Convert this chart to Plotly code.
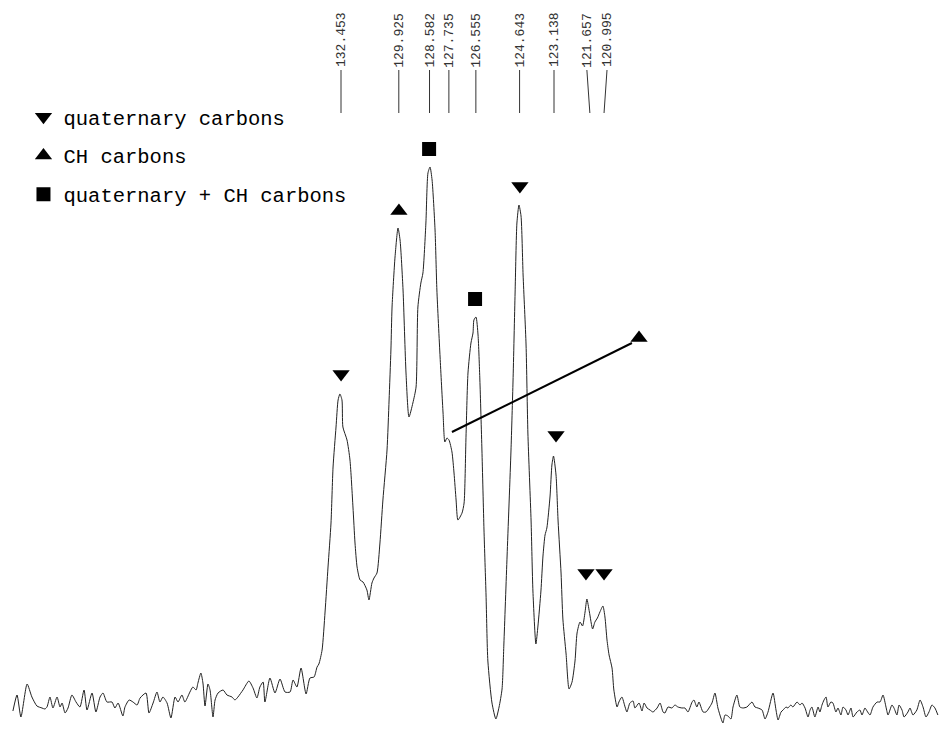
import plotly.graph_objects as go

# 13C NMR spectrum (chemical shift in ppm, intensity in arbitrary units)
shift_ppm = [
    146.80, 146.62, 146.45, 146.18, 145.97, 145.75, 145.53, 145.40, 145.31, 145.18,
    145.05, 144.87, 144.74, 144.65, 144.52, 144.39, 144.22, 144.04, 143.87, 143.69,
    143.56, 143.34, 143.17, 142.99, 142.86, 142.69, 142.47, 142.34, 142.20, 141.99,
    141.90, 141.72, 141.55, 141.37, 141.24, 140.98, 140.85, 140.67, 140.50, 140.37,
    140.24, 140.06, 139.89, 139.71, 139.58, 139.41, 139.28, 139.06, 138.93, 138.79,
    138.71, 138.58, 138.49, 138.40, 138.27, 138.18, 138.05, 137.96, 137.83, 137.61,
    137.44, 137.22, 137.09, 136.96, 136.74, 136.48, 136.30, 136.13, 136.00, 135.86,
    135.78, 135.56, 135.34, 135.12, 134.90, 134.68, 134.55, 134.38, 134.20, 133.98,
    133.81, 133.63, 133.50, 133.42, 133.28, 133.15, 133.02, 132.89, 132.80, 132.67,
    132.58, 132.50, 132.41, 132.37, 132.19, 132.06, 131.93, 131.84, 131.75, 131.62,
    131.49, 131.32, 131.23, 131.10, 131.01, 130.88, 130.75, 130.62, 130.44, 130.35,
    130.27, 130.22, 130.09, 129.96, 129.87, 129.74, 129.61, 129.48, 129.31, 129.17,
    129.09, 128.96, 128.87, 128.74, 128.65, 128.56, 128.47, 128.34, 128.26, 128.12,
    127.99, 127.91, 127.82, 127.73, 127.60, 127.51, 127.42, 127.34, 127.16, 127.07,
    126.99, 126.90, 126.77, 126.68, 126.64, 126.55, 126.46, 126.38, 126.29, 126.20,
    126.11, 126.03, 125.85, 125.68, 125.54, 125.41, 125.33, 125.19, 125.02, 124.93,
    124.84, 124.76, 124.67, 124.58, 124.49, 124.36, 124.28, 124.14, 124.06, 123.93,
    123.84, 123.71, 123.62, 123.53, 123.45, 123.31, 123.23, 123.16, 123.05, 122.96,
    122.83, 122.75, 122.61, 122.48, 122.35, 122.22, 122.13, 122.00, 121.89, 121.78,
    121.70, 121.59, 121.45, 121.35, 121.24, 121.13, 121.00, 120.91, 120.82, 120.73,
    120.60, 120.52, 120.38, 120.30, 120.17, 120.03, 119.95, 119.82, 119.68, 119.60,
    119.42, 119.29, 119.20, 119.07, 118.94, 118.81, 118.63, 118.50, 118.37, 118.29,
    118.15, 117.98, 117.85, 117.72, 117.54, 117.41, 117.28, 117.10, 117.02, 116.89,
    116.80, 116.62, 116.49, 116.36, 116.23, 116.10, 115.97, 115.84, 115.75, 115.66,
    115.53, 115.40, 115.31, 115.14, 115.01, 114.87, 114.70, 114.48, 114.35, 114.22,
    114.04, 113.91, 113.78, 113.56, 113.43, 113.34, 113.21, 113.12, 112.99, 112.91,
    112.78, 112.69, 112.51, 112.38, 112.29, 112.16, 112.03, 111.94, 111.86, 111.73,
    111.59, 111.51, 111.42, 111.33, 111.24, 111.16, 111.03, 110.94, 110.81, 110.72,
    110.59, 110.50, 110.37, 110.28, 110.15, 110.06, 109.89, 109.76, 109.67, 109.54,
    109.45, 109.32, 109.19, 109.01, 108.88, 108.75, 108.62, 108.53, 108.36, 108.27,
    108.14, 108.05, 107.92, 107.83, 107.66, 107.57, 107.44, 107.27, 107.13, 107.00,
    106.87, 106.74, 106.61, 106.48, 106.35,
]
intensity = [
    -11, 5, -17, 16, 3, -6, -8, -9, -7, 3,
    -8, 3, -7, -3, -13, -8, 5, -2, -7, 10,
    -10, 7, -12, 3, 7, -2, -2, -8, -3, -16,
    -7, 0, -2, -5, 2, 7, -13, -3, 8, -2,
    3, -3, -18, 3, -2, 5, -2, 8, 13, 10,
    17, 27, 17, -6, 16, 10, -17, 0, 7, 10,
    5, 3, 0, 3, 10, 19, 12, 2, 13, 18,
    -2, 22, 7, 21, 8, 8, 20, 13, 32, 6,
    22, 23, 33, 36, 50, 88, 133, 177, 233, 273,
    300, 306, 300, 273, 260, 240, 193, 157, 133, 120,
    118, 110, 100, 117, 122, 127, 157, 200, 250, 300,
    350, 393, 443, 472, 460, 410, 327, 283, 297, 313,
    393, 417, 427, 477, 527, 533, 520, 470, 410, 343,
    287, 258, 262, 260, 248, 227, 200, 180, 187, 197,
    260, 327, 357, 367, 380, 383, 365, 320, 250, 170,
    105, 39, -3, -19, -7, 11, 56, 144, 249, 319,
    407, 477, 495, 484, 425, 355, 267, 179, 109, 56,
    74, 109, 144, 165, 172, 204, 235, 244, 225, 179,
    127, 81, 46, 11, 18, 39, 67, 78, 74, 88,
    101, 88, 71, 78, 82, 88, 94, 83, 60, 45,
    32, 10, -7, -2, 3, -7, -12, -3, -1, -8,
    -3, -11, -3, -8, -10, -12, -8, -3, -12, -13,
    -7, -8, -5, -7, -8, -8, -12, -2, 0, -7,
    -2, -12, -12, -8, -3, 7, -8, -18, -23, -15,
    -16, -19, -7, 5, -7, -8, -7, -2, -7, -8,
    -10, -19, -12, 7, -10, -20, -12, -10, -7, -8,
    -5, -7, -2, -5, -3, -8, -17, -10, -7, -17,
    -7, -12, -5, 0, 3, -7, -2, -3, -12, -8,
    -15, -7, -10, -15, -8, -17, -12, -10, -15, -8,
    -11, -15, -7, -2, -2, 5, -7, -15, -5, -8,
    -15, -5, -10, -17, -12, -8, -15, -10, 0, -7,
    -17, -12, -5, -8, -15,
]

# Peak-pick labels (ppm)
peak_labels = ["132.453", "129.925", "128.582", "127.735", "126.555",
               "124.643", "123.138", "121.657", "120.995"]
label_top_ppm = [132.453, 129.925, 128.582, 127.735, 126.555, 124.643, 123.138, 121.70, 120.82]
label_bottom_ppm = [132.453, 129.925, 128.582, 127.735, 126.555, 124.643, 123.138, 121.57, 120.95]

# Assignment markers
quat_ppm = [132.45, 124.63, 123.05, 121.74, 120.95]
quat_int = [326, 514, 265, 127, 127]
ch_ppm = [129.92, 119.42]
ch_int = [489, 362]
both_ppm = [128.60, 126.59]
both_int = [551, 401]
ch_leader_ppm = [127.60, 119.73]
ch_leader_int = [268, 357]

fig = go.Figure()
fig.add_trace(go.Scatter(x=shift_ppm, y=intensity, mode="lines",
                         line=dict(color="#222222", width=1, shape="spline", smoothing=0.6),
                         showlegend=False, hoverinfo="skip"))
fig.add_trace(go.Scatter(x=ch_leader_ppm, y=ch_leader_int, mode="lines",
                         line=dict(color="black", width=2), showlegend=False, hoverinfo="skip"))
fig.add_trace(go.Scatter(x=quat_ppm, y=quat_int, mode="markers", name="quaternary carbons",
                         legendgroup="q",
                         marker=dict(symbol="triangle-down", size=15, color="black", line=dict(width=0))))
fig.add_trace(go.Scatter(x=ch_ppm, y=ch_int, mode="markers", name="CH carbons",
                         legendgroup="c",
                         marker=dict(symbol="triangle-up", size=15, color="black", line=dict(width=0))))
fig.add_trace(go.Scatter(x=both_ppm, y=both_int, mode="markers", name="quaternary + CH carbons",
                         legendgroup="b",
                         marker=dict(symbol="square", size=14, color="black", line=dict(width=0))))

y_line_top = 1 - 70 / 731
y_line_bot = 1 - 113 / 731
y_text = 1 - 40 / 731
for lab, xt, xb in zip(peak_labels, label_top_ppm, label_bottom_ppm):
    fig.add_shape(type="line", xref="x", yref="paper", x0=xt, x1=xb, y0=y_line_top, y1=y_line_bot,
                  line=dict(color="#333333", width=1))
    fig.add_annotation(x=xt, y=y_text, xref="x", yref="paper", text=lab, textangle=-90,
                       showarrow=False, xanchor="center", yanchor="middle",
                       font=dict(family="Liberation Mono, DejaVu Sans Mono, monospace", size=13, color="#333333"))

fig.update_layout(
    width=939, height=731, autosize=False,
    margin=dict(l=0, r=0, t=0, b=0),
    paper_bgcolor="white", plot_bgcolor="white",
    xaxis=dict(range=[147.365, 106.302], visible=False, showgrid=False, zeroline=False),
    yaxis=dict(range=[-31, 700], visible=False, showgrid=False, zeroline=False),
    showlegend=True,
    legend=dict(x=0.025, y=1 - 97 / 731, xanchor="left", yanchor="top",
                bgcolor="rgba(0,0,0,0)", borderwidth=0, tracegroupgap=9,
                font=dict(family="Courier New, Liberation Mono, monospace", size=20.5, color="black")),
)

fig.write_html("out.html", config={"displayModeBar": False},
               post_script="document.body.style.margin='0';document.body.style.overflow='hidden';")
